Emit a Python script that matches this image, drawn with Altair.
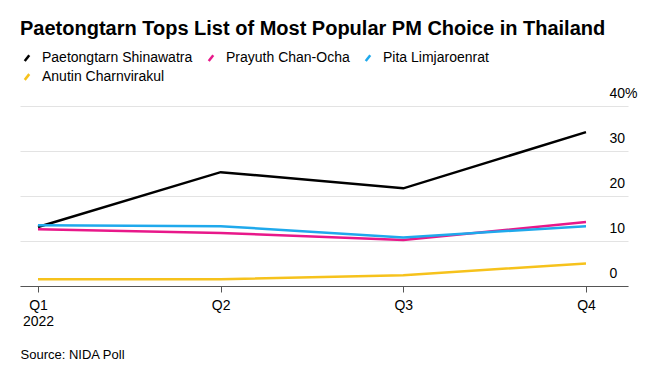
import altair as alt
import pandas as pd

quarters = ["Q1", "Q2", "Q3", "Q4"]
quarter_index = [0, 1, 2, 3]
series = ["Paetongtarn Shinawatra", "Prayuth Chan-Ocha", "Pita Limjaroenrat", "Anutin Charnvirakul"]
paetongtarn = [13.1, 25.3, 21.7, 34.2]
prayuth = [12.6, 11.8, 10.2, 14.2]
pita = [13.5, 13.3, 10.8, 13.3]
anutin = [1.5, 1.5, 2.4, 5.0]
colors = ["#000000", "#e8188a", "#1fa9ec", "#f6c21c"]
y_ticks = [0, 10, 20, 30, 40]

values = [paetongtarn, prayuth, pita, anutin]
rows = []
for s, vals in zip(series, values):
    for q, qi, v in zip(quarters, quarter_index, vals):
        rows.append({"series": s, "quarter": q, "qi": qi, "value": v})
df = pd.DataFrame(rows)

FONT = "Liberation Sans"

chart = alt.Chart(df).mark_line(strokeWidth=2.5).encode(
    x=alt.X(
        "qi:Q",
        scale=alt.Scale(domain=[-0.0985, 3.23], nice=False, zero=False),
        axis=alt.Axis(
            values=quarter_index,
            labelExpr="datum.value == 0 ? ['Q1', '2022'] : 'Q' + (datum.value + 1)",
            grid=False,
            domainColor="#555555",
            tickColor="#555555",
            tickSize=6,
            labelPadding=6,
            labelFontSize=14,
            labelFont=FONT,
            labelColor="#000000",
            labelLineHeight=16,
            labelFlush=False,
            title="Source: NIDA Poll",
            titleFont=FONT,
            titleFontSize=13,
            titleFontWeight="normal",
            titleColor="#000000",
            titleAnchor="start",
            titleAlign="left",
            titleBaseline="alphabetic",
            titleX=0,
            titleY=72,
        ),
    ),
    y=alt.Y(
        "value:Q",
        scale=alt.Scale(domain=[0, 40], nice=False),
        axis=alt.Axis(
            orient="right",
            values=y_ticks,
            labelExpr="datum.value == 40 ? '40%' : datum.label",
            domain=False,
            ticks=False,
            grid=True,
            gridColor="#e3e3e3",
            gridWidth=1,
            labelAlign="left",
            labelBaseline="alphabetic",
            labelPadding=-19,
            labelOffset=-9,
            labelFontSize=14,
            labelFont=FONT,
            labelColor="#000000",
            title=None,
        ),
    ),
    color=alt.Color(
        "series:N",
        scale=alt.Scale(domain=series, range=colors),
        legend=alt.Legend(
            title=None,
            orient="none",
            legendX=0,
            legendY=-55,
            direction="horizontal",
            columns=3,
            symbolType="M-0.4,0.5L0.4,-0.5",
            symbolStrokeWidth=2.5,
            symbolSize=130,
            labelFontSize=14,
            labelFont=FONT,
            labelColor="#000000",
            columnPadding=10,
            rowPadding=3,
            labelOffset=8,
            padding=0,
        ),
    ),
).properties(
    width=608,
    height=180,
    autosize=alt.AutoSizeParams(type="none"),
    padding={"left": 12, "top": 98, "right": 10, "bottom": 74},
    title=alt.TitleParams(
        "Paetongtarn Tops List of Most Popular PM Choice in Thailand",
        anchor="start",
        font=FONT,
        fontSize=20,
        fontWeight="bold",
        color="#000000",
        offset=12,
    ),
).configure_view(stroke=None)

chart.save("out.html", embed_options={"renderer": "svg", "actions": False})
